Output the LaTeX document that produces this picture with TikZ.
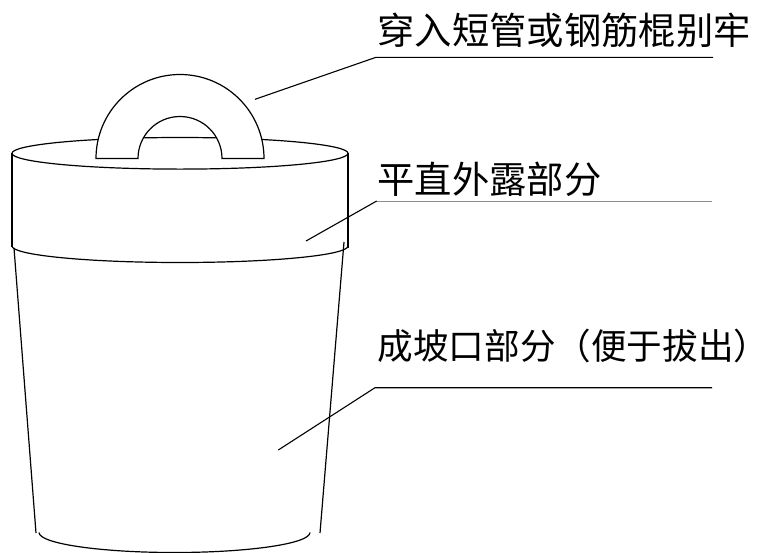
\documentclass[tikz,border=0pt]{standalone}
\usepackage{fontspec}
\newfontfamily\cjk{Noto Sans CJK SC}
\begin{document}
\begin{tikzpicture}[x=1pt,y=-1pt,line width=1.2pt,
    note/.style={anchor=base west,inner sep=0pt,font=\cjk\fontsize{37.3}{40}\selectfont},
    lead/.style={line width=1.1pt},
    thin lead/.style={line width=0.7pt,draw=black!45}]
    \useasboundingbox (0,0) rectangle (771,552);

    % upper straight part
    \draw (180,153.3) ellipse [x radius=168, y radius=15.8];
    \draw (12,153.3) -- (12,247);
    \draw (348,153.3) -- (348,248);
    \draw (12,246) arc [start angle=180, end angle=0, x radius=168, y radius=16.5];

    % handle
    \draw[fill=white] (96,158.5) arc [start angle=180, end angle=360, radius=84]
        -- (222,158.5) arc [start angle=0, end angle=-180, radius=42] -- cycle;

    % tapered part
    \draw (14,248) -- (36,533);
    \draw (344,242) -- (320,533);
    \draw (39,532.5) arc [start angle=180, end angle=0, x radius=135.5, y radius=20];

    % notes
    \node[note] (handlenote) at (377,44.5) {穿入短管或钢筋棍别牢};
    \node[note] (flatnote)   at (377,193.5) {平直外露部分};
    \node[note,font=\cjk\fontsize{35.6}{40}\selectfont] (slopenote) at (377,359) {成坡口部分（便于拔出）};

    \coordinate (h1) at (255,99.3);
    \coordinate (h2) at (376,57.3);
    \coordinate (h3) at (713,57.3);
    \coordinate (f1) at (306,241);
    \coordinate (f2) at (376.7,201);
    \coordinate (f3) at (712,201);
    \coordinate (s1) at (278.3,450);
    \coordinate (s2) at (375,387.7);
    \coordinate (s3) at (712,387.7);

    \draw[lead] (h1) -- (h2) -- (h3);
    \draw[lead] (f1) -- (f2);
    \draw[thin lead] (f2) -- (f3);
    \draw[lead] (s1) -- (s2) -- (s3);
\end{tikzpicture}
\end{document}
